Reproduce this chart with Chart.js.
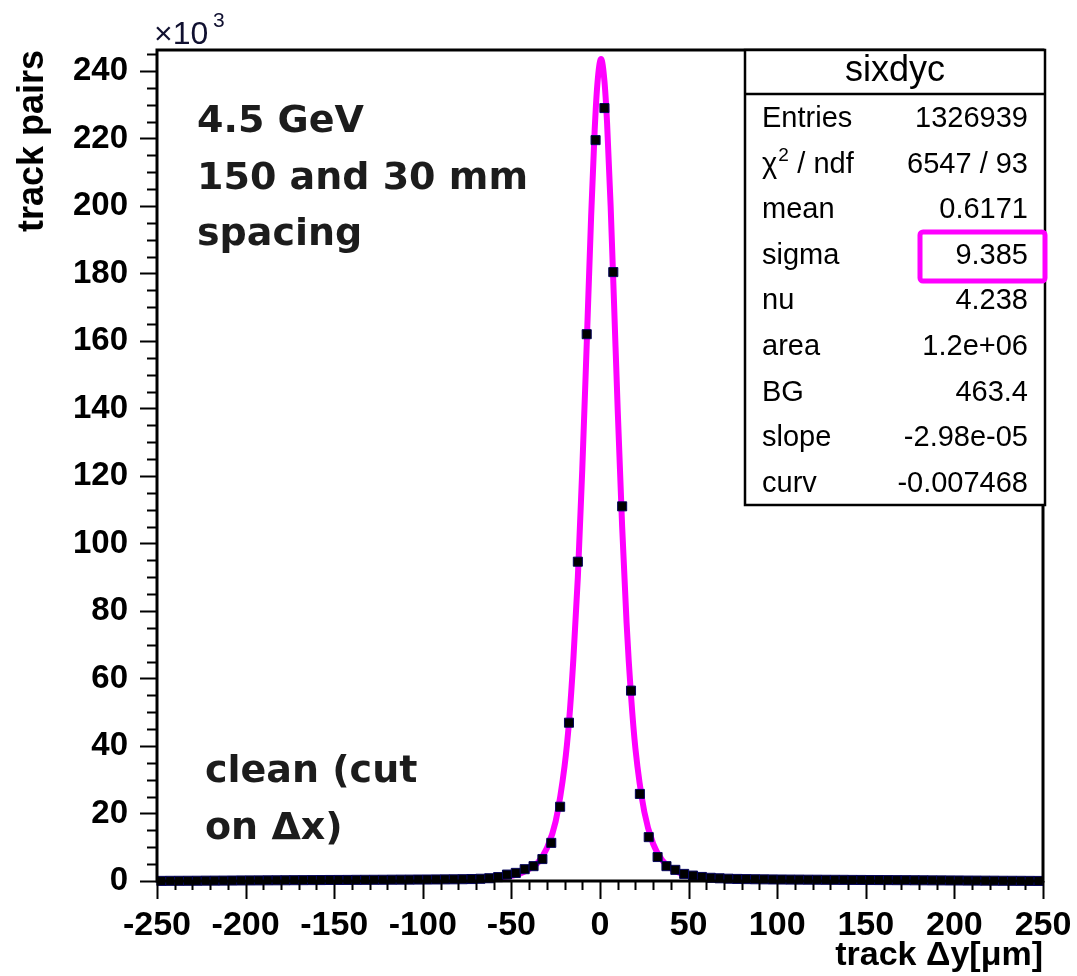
<!DOCTYPE html>
<html>
<head>
<meta charset="utf-8">
<script src="https://cdn.jsdelivr.net/npm/chart.js@4.4.1/dist/chart.umd.min.js"></script>
<style>
  html, body { margin: 0; padding: 0; background: #fff; }
  #wrap { width: 1077px; height: 976px; position: relative; }
</style>
</head>
<body>
<div id="wrap"><canvas id="c"></canvas></div>
<script>
// track dy residuals, histogram (units of 10^3 pairs) + fit curve

// ---- data ----
const binCenters = [
  -247.5, -242.5, -237.5, -232.5, -227.5, -222.5, -217.5, -212.5, -207.5, -202.5,
  -197.5, -192.5, -187.5, -182.5, -177.5, -172.5, -167.5, -162.5, -157.5, -152.5,
  -147.5, -142.5, -137.5, -132.5, -127.5, -122.5, -117.5, -112.5, -107.5, -102.5,
  -97.5, -92.5, -87.5, -82.5, -77.5, -72.5, -67.5, -62.5, -57.5, -52.5,
  -47.5, -42.5, -37.5, -32.5, -27.5, -22.5, -17.5, -12.5, -7.5, -2.5,
  2.5, 7.5, 12.5, 17.5, 22.5, 27.5, 32.5, 37.5, 42.5, 47.5,
  52.5, 57.5, 62.5, 67.5, 72.5, 77.5, 82.5, 87.5, 92.5, 97.5,
  102.5, 107.5, 112.5, 117.5, 122.5, 127.5, 132.5, 137.5, 142.5, 147.5,
  152.5, 157.5, 162.5, 167.5, 172.5, 177.5, 182.5, 187.5, 192.5, 197.5,
  202.5, 207.5, 212.5, 217.5, 222.5, 227.5, 232.5, 237.5, 242.5, 247.5
];
const trackPairs = [
  0.03, 0.05, 0.06, 0.07, 0.08, 0.10, 0.11, 0.12, 0.14, 0.16,
  0.17, 0.18, 0.20, 0.21, 0.22, 0.24, 0.25, 0.27, 0.28, 0.30,
  0.31, 0.32, 0.34, 0.35, 0.36, 0.37, 0.39, 0.40, 0.41, 0.43,
  0.44, 0.46, 0.48, 0.50, 0.53, 0.58, 0.66, 0.82, 1.15, 1.9,
  2.4, 3.5, 4.4, 6.5, 11.3, 22.0, 46.9, 94.6, 162.0, 219.5,
  229.0, 180.4, 111.0, 56.4, 25.8, 13.0, 7.1, 4.4, 3.3, 2.1,
  1.6, 1.2, 0.95, 0.80, 0.68, 0.61, 0.56, 0.52, 0.49, 0.46,
  0.44, 0.42, 0.41, 0.39, 0.38, 0.36, 0.35, 0.34, 0.32, 0.31,
  0.29, 0.28, 0.27, 0.25, 0.24, 0.22, 0.21, 0.19, 0.18, 0.16,
  0.15, 0.13, 0.12, 0.10, 0.09, 0.07, 0.06, 0.05, 0.03, 0.02
];

// fit curve
const fitX = [-250, -225, -200, -175, -150, -125, -100, -80, -70, -60, -50, -45, -40, -35, -30, -25,
  -20, -17.5, -15, -12.5, -10, -7.5, -5, -3, -1.5, 0.6, 2.5, 4, 6, 8, 10, 12.5, 15, 17.5, 20,
  25, 30, 35, 40, 45, 50, 60, 70, 80, 100, 125, 150, 175, 200, 225, 250];
const fitY = [0.02, 0.1, 0.17, 0.24, 0.31, 0.37, 0.43, 0.51, 0.64, 0.9, 1.54, 2.2, 3.6, 5.5, 9.7, 17.7,
  34, 47, 66, 90, 122, 159, 197, 222.5, 236, 243.5, 237, 224.5, 200, 170, 139.5, 105, 76.5, 55, 39.2,
  20.5, 11, 6.2, 3.75, 2.4, 1.6, 0.95, 0.66, 0.53, 0.43, 0.37, 0.31, 0.24, 0.17, 0.1, 0.02];

const statNames  = ["Entries", "χ2 / ndf", "mean", "sigma", "nu", "area", "BG", "slope", "curv"];
const statValues = ["1326939", "6547 / 93", "0.6171", "9.385", "4.238", "1.2e+06", "463.4", "-2.98e-05", "-0.007468"];
const histName = "sixdyc";

const noteTop = ["4.5 GeV", "150 and 30 mm", "spacing"];
const noteBottom = ["clean (cut", "on Δx)"];

const X_MIN = -250, X_MAX = 250, Y_MIN = 0, Y_MAX = 246.2;
const FONT = "'Liberation Sans', Arial, sans-serif";

// ---- plugin: ROOT style frame, ticks, stat box, labels ----
const rootFrame = {
  id: "rootFrame",
  afterDraw(chart) {
    const { ctx, chartArea: a, scales: { x, y } } = chart;
    ctx.save();
    ctx.strokeStyle = "#000";
    ctx.lineWidth = 2;
    ctx.beginPath();
    for (let v = X_MIN; v <= X_MAX; v += 10) {
      const px = Math.round(x.getPixelForValue(v)) + 0.5;
      const len = v % 50 === 0 ? 18 : 9;
      ctx.moveTo(px, a.bottom); ctx.lineTo(px, a.bottom + len);
    }
    for (let v = 0; v <= 245; v += 5) {
      const py = Math.round(y.getPixelForValue(v)) + 0.5;
      const len = v % 20 === 0 ? 17 : 10;
      ctx.moveTo(a.left - len, py); ctx.lineTo(a.left, py);
    }
    ctx.stroke();

    // frame
    ctx.lineWidth = 3;
    ctx.strokeRect(a.left, a.top, a.right - a.left, a.bottom - a.top);

    // x10^3
    ctx.fillStyle = "#101030";
    ctx.textBaseline = "alphabetic";
    ctx.textAlign = "left";
    ctx.font = "32px " + FONT;
    ctx.fillText("×10", 154, 44);
    ctx.font = "21px " + FONT;
    ctx.fillText("3", 213, 27);

    // annotations
    ctx.fillStyle = "#1c1c1c";
    ctx.font = "bold 38px 'DejaVu Sans', sans-serif";
    noteTop.forEach((t, i) => ctx.fillText(t, 197, 132 + i * 56.5));
    noteBottom.forEach((t, i) => ctx.fillText(t, 205, 782 + i * 57));

    // stat box
    const bx0 = 745, by0 = 50, bx1 = 1045, by1 = 505;
    ctx.fillStyle = "#fff";
    ctx.fillRect(bx0, by0, bx1 - bx0, by1 - by0);
    ctx.lineWidth = 2.5;
    ctx.strokeStyle = "#000";
    ctx.strokeRect(bx0, by0, bx1 - bx0, by1 - by0);
    ctx.beginPath(); ctx.moveTo(bx0, 94); ctx.lineTo(bx1, 94); ctx.stroke();

    ctx.fillStyle = "#000";
    ctx.font = "36px " + FONT;
    ctx.textAlign = "center";
    ctx.fillText(histName, (bx0 + bx1) / 2, 81);

    ctx.font = "29px " + FONT;
    statNames.forEach((name, i) => {
      const by = 127 + i * 45.6;
      ctx.textAlign = "left";
      if (name.startsWith("χ2")) {
        ctx.fillText("χ", 762, by);
        const w = ctx.measureText("χ").width;
        ctx.font = "19px " + FONT;
        ctx.fillText("2", 762 + w + 1, by - 12);
        ctx.font = "29px " + FONT;
        ctx.fillText(" / ndf", 762 + w + 12, by);
      } else {
        ctx.fillText(name, 762, by);
      }
      ctx.textAlign = "right";
      ctx.fillText(statValues[i], 1028, by);
    });

    // highlight around sigma
    ctx.strokeStyle = "#ff00ff";
    ctx.lineWidth = 5;
    ctx.beginPath();
    ctx.roundRect(920, 232, 125, 49, 3);
    ctx.stroke();
    ctx.restore();
  }
};

new Chart(document.getElementById("c"), {
  type: "scatter",
  plugins: [rootFrame],
  data: {
    datasets: [
      {
        label: "data",
        data: binCenters.map((b, i) => ({ x: b, y: trackPairs[i] })),
        showLine: false,
        pointStyle: "rect",
        pointRadius: 6.4,
        pointHoverRadius: 6.4,
        backgroundColor: "#000",
        borderColor: "#05055a",
        borderWidth: 1,
        clip: 10,
        order: 0
      },
      {
        label: "fit",
        type: "line",
        data: fitX.map((v, i) => ({ x: v, y: fitY[i] })),
        borderColor: "#ff00ff",
        borderWidth: 6,
        pointRadius: 0,
        cubicInterpolationMode: "monotone",
        fill: false,
        clip: 4,
        order: 1
      }
    ]
  },
  options: {
    responsive: true,
    maintainAspectRatio: false,
    animation: false,
    events: [],
    layout: { padding: { top: 50, right: 34, left: 0, bottom: 0 } },
    plugins: { legend: { display: false }, tooltip: { enabled: false } },
    scales: {
      x: {
        type: "linear", min: X_MIN, max: X_MAX,
        grid: { display: false, drawTicks: false },
        border: { display: false },
        ticks: {
          stepSize: 50, autoSkip: false, maxRotation: 0, padding: 24, includeBounds: false,
          color: "#000", font: { family: FONT, size: 34, weight: "bold" }
        },
        title: {
          display: true, text: "track Δy[μm]", align: "end",
          color: "#000", font: { family: FONT, size: 34, weight: "bold" },
          padding: { top: 0, bottom: 0 }
        },
        afterFit: s => { s.height = 95; s.paddingLeft = 0; s.paddingRight = 0; }
      },
      y: {
        type: "linear", min: Y_MIN, max: Y_MAX,
        grid: { display: false, drawTicks: false },
        border: { display: false },
        ticks: {
          stepSize: 20, autoSkip: false, padding: 29, includeBounds: false,
          color: "#000", font: { family: FONT, size: 33, weight: "bold" },
          callback: v => (v % 20 === 0 ? v : "")
        },
        title: {
          display: true, text: "track pairs", align: "end",
          color: "#000", font: { family: FONT, size: 36, weight: "bold" },
          padding: { top: 11, bottom: 0 }
        },
        afterFit: s => { s.width = 157; s.paddingTop = 0; s.paddingBottom = 0; }
      }
    }
  }
});
</script>
</body>
</html>
